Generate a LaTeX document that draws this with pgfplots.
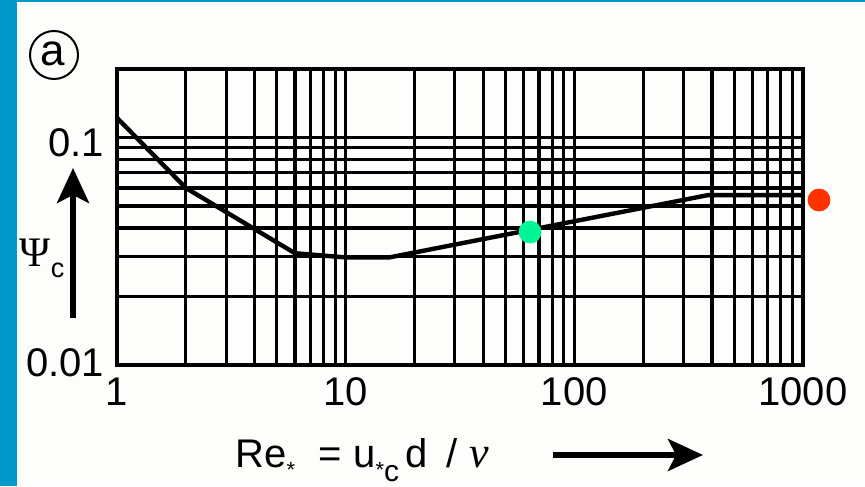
\documentclass[border=0pt]{standalone}
\usepackage{pgfplots}
\pgfplotsset{compat=1.18}
\usepackage{fontspec}
\setmainfont{Liberation Sans}
\newfontfamily\seriffont{Liberation Serif}
\usetikzlibrary{arrows.meta}
\definecolor{bgwhite}{RGB}{253,253,251}
\definecolor{stripe}{RGB}{0,153,204}
\definecolor{greendot}{RGB}{0,245,150}
\definecolor{reddot}{RGB}{255,51,0}
\begin{document}
\begin{tikzpicture}
\fill[bgwhite] (0pt,0pt) rectangle (432.5pt,243pt);
\fill[stripe] (0pt,0pt) rectangle (8.5pt,243pt);
\fill[stripe] (0pt,242pt) rectangle (432.5pt,243pt);
\begin{axis}[
  at={(58.5pt,60.5pt)}, anchor=south west,
  scale only axis, width=343pt, height=148pt,
  xmode=log, ymode=log,
  xmin=1, xmax=1000, ymin=0.01, ymax=0.2,
  xtick={1,10,100,1000}, xticklabels={1,10,100,1000},
  ytick={0.01,0.1},
  yticklabels={{\raisebox{1.25pt}[\height][0pt]{0.01}},{\raisebox{-2.75pt}[\height][0pt]{0.1}}},
  minor xtick={2,3,4,5,6,7,8,9,20,30,40,50,60,70,80,90,200,300,400,500,600,700,800,900},
  minor ytick={0.02,0.03,0.04,0.05,0.06,0.07,0.08,0.09},
  grid=both,
  major grid style={black, line width=1.6pt},
  minor grid style={black, line width=1.6pt},
  axis line style={black, line width=1.6pt},
  major tick length=0pt, minor tick length=0pt,
  tick label style={font=\fontsize{20}{22}\selectfont},
  /pgf/number format/assume math mode=true,
  xticklabel shift=2.9pt, yticklabel shift=2.9pt,
  clip=false,
]
\addplot[black, line width=2.2pt, line join=round, mark=none] coordinates {
  (1,0.122) (2,0.06) (6,0.031) (10,0.0297) (15.5,0.0297) (384,0.0558) (1000,0.0558)
};
\addplot[only marks, mark=*, mark size=5.5pt, mark options={fill=greendot, draw=greendot}] coordinates {(64,0.0384)};
\addplot[only marks, mark=*, mark size=5.5pt, mark options={fill=reddot, draw=reddot}] coordinates {(1175,0.0531)};
\end{axis}
% circled a
\draw[line width=1pt] (27pt,215.5pt) circle (12pt);
\node[font=\fontsize{22}{24}\selectfont, inner sep=0pt] at (26.5pt,216.25pt) {a};
% y label
\node[font=\fontsize{21}{22}\seriffont, inner sep=0pt] at (17.5pt,116.5pt) {Ψ};
\node[font=\fontsize{13.5}{14}\selectfont, inner sep=0pt] at (28.75pt,108pt) {c};
\draw[line width=2.75pt, -{Stealth[length=17.5pt,width=16pt,inset=4pt]}] (36.5pt,84pt) -- (36.5pt,159pt);
% x label
\begin{scope}[every node/.style={anchor=base west, inner sep=0pt, font=\fontsize{20}{22}\selectfont}]
\node at (117.5pt,9.25pt) {Re\raisebox{-5pt}{\fontsize{11}{11}\selectfont *}};
\node at (159pt,9.25pt) {=};
\node at (176.5pt,9.25pt) {u\raisebox{-5pt}{\fontsize{11}{11}\selectfont *}\raisebox{-7pt}{\fontsize{15}{15}\selectfont c}};
\node at (202.5pt,9.25pt) {d};
\node at (223pt,9.25pt) {/};
\node[font=\fontsize{22}{22}\seriffont\itshape] at (234.5pt,9.25pt) {ν};
\end{scope}
\draw[line width=2.75pt, -{Stealth[length=17.5pt,width=16pt,inset=4pt]}] (276.5pt,15.5pt) -- (351.5pt,15.5pt);
\pgfresetboundingbox
\useasboundingbox (0pt,0pt) rectangle (432.5pt,243pt);
\end{tikzpicture}
\end{document}
